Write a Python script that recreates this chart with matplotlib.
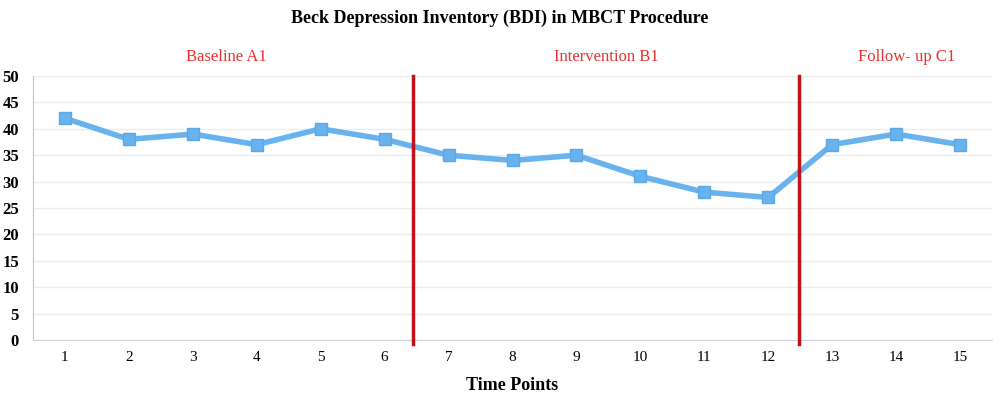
import matplotlib.pyplot as plt

# BDI scores per time point
time_points = list(range(1, 16))
bdi = [42, 38, 39, 37, 40, 38, 35, 34, 35, 31, 28, 27, 37, 39, 37]
phase_names = ['Baseline A1', 'Intervention B1', 'Follow- up C1']
phase_label_x = [3.53, 9.47, 14.16]
phase_breaks = [6.44, 12.48]

plt.rcParams['font.family'] = ['Liberation Serif', 'DejaVu Serif']

fig = plt.figure(figsize=(10, 3.97), dpi=100)
ax = fig.add_axes([0.033, 0.1436, 0.959, 0.665])

ax.plot(time_points, bdi, color='#68b3ee', lw=4, marker='s', ms=8.5,
        mec='#5aa8e6', zorder=3)
for xb in phase_breaks:
    ax.axvline(xb, color='#c0141c', lw=2.5, zorder=4, ymin=-0.015, ymax=1.0, clip_on=False)

ax.set_xlim(0.5, 15.5)
ax.set_ylim(0, 50)
ax.set_yticks(range(0, 51, 5))
ax.set_xticks(time_points)
ax.grid(axis='y', color='#ececec', lw=1)
ax.set_axisbelow(True)
for s in ['top', 'right']:
    ax.spines[s].set_visible(False)
ax.spines['left'].set_color('#b8c8d0')
ax.spines['bottom'].set_color('#c8d4d8')
ax.tick_params(length=0)
ax.tick_params(axis='y', pad=10, labelsize=12)
ax.tick_params(axis='x', pad=8, labelsize=11)
for t in ax.get_yticklabels():
    t.set_fontweight('bold')

for name, xp in zip(phase_names, phase_label_x):
    ax.text(xp, 53.6, name, color='#e8322d', fontsize=12, ha='center', va='center')

ax.set_xlabel('Time Points', fontsize=13, fontweight='bold', labelpad=9)
fig.suptitle('Beck Depression Inventory (BDI) in MBCT Procedure', fontsize=13,
             fontweight='bold', y=0.975)

fig.savefig('out.png')
